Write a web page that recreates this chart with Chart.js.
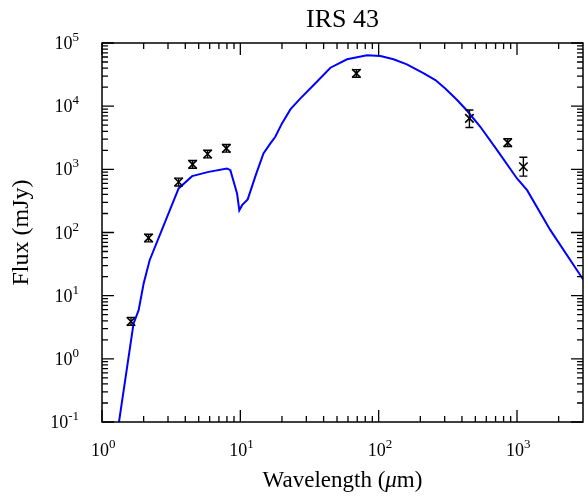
<!DOCTYPE html>
<html><head><meta charset="utf-8">
<script src="https://cdn.jsdelivr.net/npm/chart.js@4/dist/chart.umd.min.js"></script>
<style>html,body{margin:0;padding:0;background:#fff}#wrap{width:585px;height:497px}</style>
</head><body><div id="wrap"><canvas id="c" width="585" height="497"></canvas></div>
<script>
// ---- data ----
const modelWavelength = [1.327, 1.69, 1.84, 2.0, 2.21, 3.58, 4.48, 5.9, 8.0, 8.47, 9.47, 9.83, 10.3, 11.3, 13.0, 14.7, 16.5, 17.9, 20.0, 23.0, 27.2, 33.9, 44.8, 59.1, 82.4, 103, 128, 160, 212, 257, 303, 369, 436, 543, 718, 1000, 1183, 1743, 3035];
const modelFlux = [0.1, 3.6, 5.9, 15.6, 36.4, 498, 780, 912, 1033, 971, 415, 225, 271, 334, 839, 1786, 2572, 3272, 5337, 8893, 13300, 21600, 40600, 55200, 63900, 62200, 55200, 45900, 33100, 25900, 19100, 12500, 8460, 4720, 2015, 717, 468, 109, 17.5];
const obsWavelength = [1.62, 2.17, 3.58, 4.52, 5.80, 7.92, 69.0, 453, 857, 1112];
const obsFlux = [3.9, 82, 630, 1200, 1750, 2150, 33000, 6400, 2650, 1100];
const obsFluxLow = [3.4, 71, 545, 1040, 1520, 1870, 28700, 4600, 2300, 780];
const obsFluxHigh = [4.5, 94, 725, 1380, 2010, 2470, 37900, 8700, 3050, 1550];
const xMajorTicks = [1, 10, 100, 1000];
const xTickExponents = ['0', '1', '2', '3'];
const yMajorTicks = [0.1, 1, 10, 100, 1000, 10000, 100000];
const yTickExponents = ['-1', '0', '1', '2', '3', '4', '5'];
const titleText = 'IRS 43';
const xTitleParts = ['Wavelength (', 'μ', 'm)'];
const yTitleText = 'Flux (mJy)';

const SERIF = '"Liberation Serif", "DejaVu Serif", serif';

function minorValues(min, max) {
  const out = [];
  for (let e = Math.floor(Math.log10(min)); e <= Math.ceil(Math.log10(max)); e++) {
    for (let m = 2; m <= 9; m++) {
      const v = m * Math.pow(10, e);
      if (v > min * 1.0001 && v < max * 0.9999) out.push(v);
    }
  }
  return out;
}

const framePlugin = {
  id: 'frame',
  afterDatasetsDraw(chart) {
    const ctx = chart.ctx;
    const xs = chart.scales.x, ys = chart.scales.y;
    ctx.save();
    ctx.strokeStyle = '#000';
    ctx.lineWidth = 1.4;
    for (let i = 0; i < obsWavelength.length; i++) {
      const px = xs.getPixelForValue(obsWavelength[i]);
      const y1 = ys.getPixelForValue(obsFluxLow[i]);
      const y2 = ys.getPixelForValue(obsFluxHigh[i]);
      ctx.beginPath();
      ctx.moveTo(px, y1); ctx.lineTo(px, y2);
      ctx.moveTo(px - 4, y1); ctx.lineTo(px + 4, y1);
      ctx.moveTo(px - 4, y2); ctx.lineTo(px + 4, y2);
      ctx.stroke();
    }
    ctx.restore();
  },
  afterDraw(chart) {
    const ctx = chart.ctx;
    const xs = chart.scales.x, ys = chart.scales.y;
    const a = chart.chartArea;
    ctx.save();
    ctx.strokeStyle = '#000';
    ctx.lineWidth = 1.5;
    ctx.strokeRect(a.left, a.top, a.right - a.left, a.bottom - a.top);
    ctx.lineWidth = 1.3;
    const MAJ = 12, MIN = 6;
    ctx.beginPath();
    xMajorTicks.forEach(v => {
      const p = xs.getPixelForValue(v);
      ctx.moveTo(p, a.bottom); ctx.lineTo(p, a.bottom - MAJ);
      ctx.moveTo(p, a.top); ctx.lineTo(p, a.top + MAJ);
    });
    minorValues(xs.min, xs.max).forEach(v => {
      const p = xs.getPixelForValue(v);
      ctx.moveTo(p, a.bottom); ctx.lineTo(p, a.bottom - MIN);
      ctx.moveTo(p, a.top); ctx.lineTo(p, a.top + MIN);
    });
    yMajorTicks.forEach(v => {
      const p = ys.getPixelForValue(v);
      ctx.moveTo(a.left, p); ctx.lineTo(a.left + MAJ, p);
      ctx.moveTo(a.right, p); ctx.lineTo(a.right - MAJ, p);
    });
    minorValues(ys.min, ys.max).forEach(v => {
      const p = ys.getPixelForValue(v);
      ctx.moveTo(a.left, p); ctx.lineTo(a.left + MIN, p);
      ctx.moveTo(a.right, p); ctx.lineTo(a.right - MIN, p);
    });
    ctx.stroke();

    // tick labels
    ctx.fillStyle = '#000';
    ctx.textBaseline = 'alphabetic';
    const baseFont = '18px ' + SERIF, supFont = '13px ' + SERIF;
    xMajorTicks.forEach((v, i) => {
      const p = xs.getPixelForValue(v);
      ctx.font = baseFont; const w1 = ctx.measureText('10').width;
      const x0 = p - w1 / 2 - 2;
      ctx.textAlign = 'left';
      ctx.font = baseFont; ctx.fillText('10', x0, a.bottom + 34);
      ctx.font = supFont; ctx.fillText(xTickExponents[i], x0 + w1, a.bottom + 26);
    });
    yMajorTicks.forEach((v, i) => {
      const p = ys.getPixelForValue(v);
      ctx.font = supFont; const w2 = ctx.measureText(yTickExponents[i]).width;
      ctx.font = baseFont; const w1 = ctx.measureText('10').width;
      const xr = 79;
      ctx.textAlign = 'left';
      ctx.font = baseFont; ctx.fillText('10', xr - w2 - w1, p + 6);
      ctx.font = supFont; ctx.fillText(yTickExponents[i], xr - w2, p - 2);
    });

    // title
    const cx = (a.left + a.right) / 2;
    ctx.textAlign = 'center';
    ctx.font = '26px ' + SERIF;
    ctx.fillText(titleText, cx, 27);

    // x axis title
    const fN = '23px ' + SERIF, fI = 'italic 23px ' + SERIF;
    ctx.font = fN; const t1 = ctx.measureText(xTitleParts[0]).width;
    ctx.font = fI; const t2 = ctx.measureText(xTitleParts[1]).width;
    ctx.font = fN; const t3 = ctx.measureText(xTitleParts[2]).width;
    let sx = cx - (t1 + t2 + t3) / 2;
    ctx.textAlign = 'left';
    ctx.font = fN; ctx.fillText(xTitleParts[0], sx, 487);
    ctx.font = fI; ctx.fillText(xTitleParts[1], sx + t1, 487);
    ctx.font = fN; ctx.fillText(xTitleParts[2], sx + t1 + t2, 487);

    // y axis title
    ctx.save();
    ctx.translate(28, (a.top + a.bottom) / 2);
    ctx.rotate(-Math.PI / 2);
    ctx.textAlign = 'center';
    ctx.font = '24px ' + SERIF;
    ctx.fillText(yTitleText, 0, 0);
    ctx.restore();
    ctx.restore();
  }
};

new Chart(document.getElementById('c'), {
  type: 'scatter',
  data: {
    datasets: [
      {
        label: 'Model',
        data: modelWavelength.map((x, i) => ({ x: x, y: modelFlux[i] })),
        showLine: true,
        borderColor: '#0000ff',
        borderWidth: 2,
        pointRadius: 0,
        tension: 0,
        fill: false
      },
      {
        label: 'Observed',
        data: obsWavelength.map((x, i) => ({ x: x, y: obsFlux[i] })),
        showLine: false,
        pointStyle: 'crossRot',
        pointRadius: 6,
        borderColor: '#000',
        backgroundColor: '#000',
        borderWidth: 1.6
      }
    ]
  },
  options: {
    responsive: false,
    devicePixelRatio: 1,
    animation: false,
    layout: { autoPadding: false, padding: { left: 102, right: 2, top: 43, bottom: 75 } },
    plugins: { legend: { display: false }, title: { display: false }, tooltip: { enabled: false } },
    scales: {
      x: { type: 'logarithmic', min: 1, max: 3000, display: false },
      y: { type: 'logarithmic', min: 0.1, max: 100000, display: false }
    }
  },
  plugins: [framePlugin]
});
</script>
</body></html>
